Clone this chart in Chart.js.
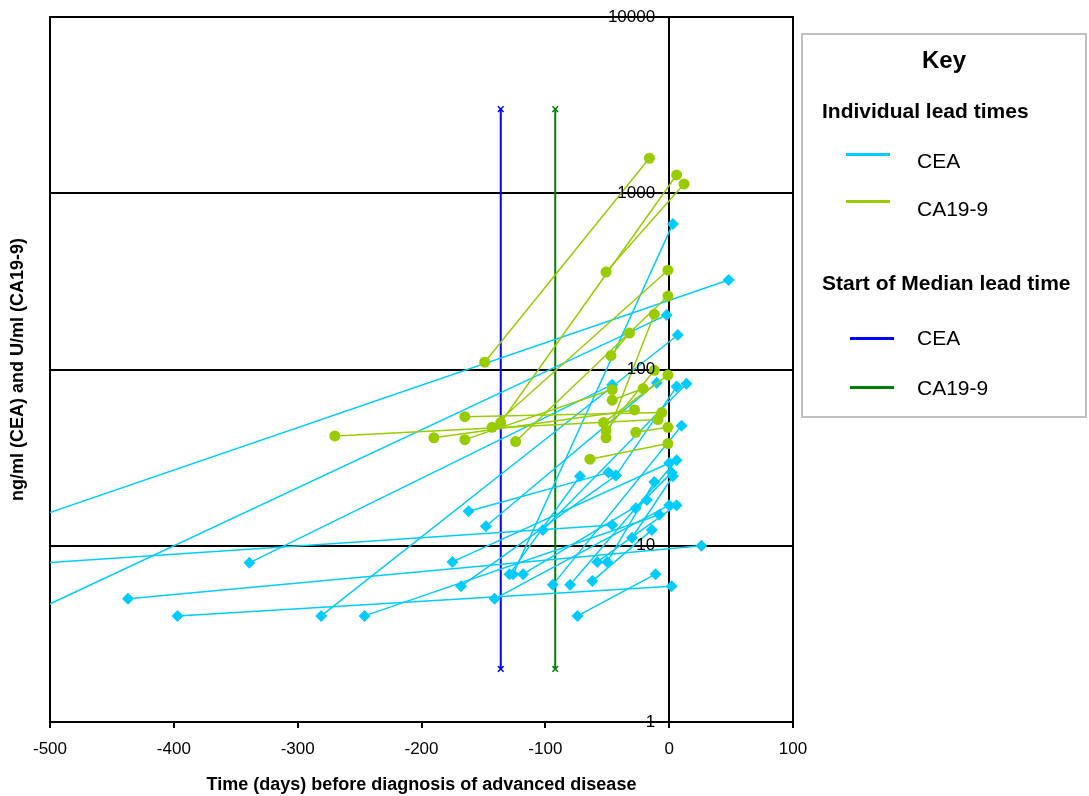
<!DOCTYPE html>
<html>
<head>
<meta charset="utf-8">
<title>Lead times</title>
<script src="https://cdn.jsdelivr.net/npm/chart.js@4.4.1/dist/chart.umd.min.js"></script>
<style>
  html, body { margin: 0; padding: 0; background: #fff; }
  #wrap { position: relative; width: 1089px; height: 796px; font-family: "Liberation Sans", Arial, sans-serif; color: #000; }
  #chart { position: absolute; left: 0; top: 0; }
  .key-box { position: absolute; left: 801px; top: 33px; width: 282px; height: 381px; border: 2px solid #c0c0c0; }
  .key-title { position: absolute; left: 801px; width: 286px; top: 46px; line-height: 28px; font-size: 24px; font-weight: bold; text-align: center; }
  .key-head { position: absolute; left: 822px; line-height: 24px; font-size: 21px; font-weight: bold; white-space: nowrap; }
  .key-line { position: absolute; width: 44px; height: 3px; }
  .key-text { position: absolute; left: 917px; line-height: 24px; font-size: 21px; white-space: nowrap; }
</style>
</head>
<body>
<div id="wrap">
  <canvas id="chart" width="1089" height="796"></canvas>
  <div class="key-box"></div>
  <div class="key-title">Key</div>
  <div class="key-head" style="top:99px">Individual lead times</div>
  <div class="key-line" style="left:846px; top:153px; background:#00CCFF"></div>
  <div class="key-text" style="top:149px">CEA</div>
  <div class="key-line" style="left:846px; top:200px; background:#99CC00"></div>
  <div class="key-text" style="top:197px">CA19-9</div>
  <div class="key-head" style="top:271px">Start of Median lead time</div>
  <div class="key-line" style="left:850px; top:337px; background:#0000FF"></div>
  <div class="key-text" style="top:326px">CEA</div>
  <div class="key-line" style="left:850px; top:386px; background:#008000"></div>
  <div class="key-text" style="top:376px">CA19-9</div>
</div>
<script>
// CEA: one line per patient, from first raised value to value at diagnosis
const ceaStartDay   = [-437, -397, -339, -281, -246, -550, -550, -550, -175, -168, -162, -148, -141,
                       -129, -126, -118, -102, -94, -80, -74, -62, -58, -50, -30, -27, -43];
const ceaStartValue = [5.0, 4.0, 8.0, 4.0, 4.0, 11.7, 3.2, 7.6, 8.1, 5.9, 15.7, 12.9, 5.0,
                       6.9, 6.9, 6.9, 12.3, 6.0, 6.0, 4.0, 6.3, 8.1, 8.1, 11.1, 16.3, 25];
const ceaEndDay     = [26, 2, -46, 7, -8, 48, -2, -46, 0, -43, -49, -10, 0,
                       -72, 3, -18, 14, 10, 6, -11, -14, 6, -12, 3, 2, 6];
const ceaEndValue   = [10, 5.9, 82, 157, 15, 322, 204, 13.1, 29.5, 25, 26, 84, 17,
                       24.8, 670, 18.2, 83, 48, 30.6, 6.9, 12.3, 17, 23, 24.8, 26, 80];

// CA19-9
const caStartDay   = [-149, -136, -51, -143, -124, -51, -47, -165, -165, -190, -270, -64, -51, -53, -27, -46];
const caStartValue = [110, 50, 357, 47, 39, 41, 120, 40, 54, 41, 42, 31, 45, 50, 44, 67];
const caEndDay     = [-16, 6, 12, -1, -1, -12, -32, -46, -6, -28, -9, -1, -12, -1, -1, -21];
const caEndValue   = [1580, 1270, 1130, 366, 261, 206, 161, 77, 57, 59, 52, 38, 99, 93, 47, 78];

// start of median lead time
const medianDay = { cea: -136, ca: -92 };
const medianRange = [2, 3000];

const xTicks = [-500, -400, -300, -200, -100, 0, 100];
const yTicks = [1, 10, 100, 1000, 10000];

const FONT = '"Liberation Sans", Arial, sans-serif';
const CEA_COLOR = '#00CCFF';
const CA_COLOR = '#99CC00';

const datasets = [];

ceaStartDay.forEach((d, i) => {
  datasets.push({
    data: [{ x: d, y: ceaStartValue[i] }, { x: ceaEndDay[i], y: ceaEndValue[i] }],
    showLine: true,
    borderColor: CEA_COLOR,
    borderWidth: 1.5,
    pointStyle: 'rectRot',
    pointRadius: 6,
    pointBackgroundColor: CEA_COLOR,
    pointBorderColor: CEA_COLOR,
    pointBorderWidth: 0,
    order: 2
  });
});

caStartDay.forEach((d, i) => {
  datasets.push({
    data: [{ x: d, y: caStartValue[i] }, { x: caEndDay[i], y: caEndValue[i] }],
    showLine: true,
    borderColor: CA_COLOR,
    borderWidth: 1.5,
    pointStyle: 'circle',
    pointRadius: 5.5,
    pointBackgroundColor: CA_COLOR,
    pointBorderColor: CA_COLOR,
    pointBorderWidth: 0,
    order: 1
  });
});

[[medianDay.cea, '#0000FF'], [medianDay.ca, '#008000']].forEach(([d, c]) => {
  datasets.push({
    data: medianRange.map(v => ({ x: d, y: v })),
    showLine: true,
    borderColor: c,
    borderWidth: 2,
    pointStyle: 'crossRot',
    pointRadius: 4,
    pointBorderColor: c,
    pointBorderWidth: 1.5,
    order: 3
  });
});

// black box round the plot area
const frame = {
  id: 'frame',
  beforeDatasetsDraw(chart) {
    const { ctx, chartArea: a } = chart;
    ctx.save();
    ctx.strokeStyle = '#000';
    ctx.lineWidth = 2;
    ctx.strokeRect(a.left, a.top, a.right - a.left, a.bottom - a.top);
    ctx.restore();
  }
};

// y tick labels sit just left of the day-0 axis, y title at the far left
const yText = {
  id: 'yText',
  afterDraw(chart) {
    const { ctx, chartArea: a, scales } = chart;
    const axisX = scales.x.getPixelForValue(0);
    ctx.save();
    ctx.fillStyle = '#000';
    ctx.font = '17px ' + FONT;
    ctx.textAlign = 'right';
    ctx.textBaseline = 'middle';
    yTicks.forEach(v => {
      ctx.fillText(String(v), axisX - 14, scales.y.getPixelForValue(v));
    });
    ctx.translate(18, (a.top + a.bottom) / 2);
    ctx.rotate(-Math.PI / 2);
    ctx.font = 'bold 18px ' + FONT;
    ctx.textAlign = 'center';
    ctx.fillText('ng/ml (CEA) and U/ml (CA19-9)', 0, 0);
    ctx.restore();
  }
};

new Chart(document.getElementById('chart'), {
  type: 'scatter',
  data: { datasets },
  options: {
    responsive: false,
    animation: false,
    layout: { padding: { left: 50, right: 296, top: 17, bottom: 0 } },
    plugins: { legend: { display: false }, tooltip: { enabled: false } },
    scales: {
      x: {
        type: 'linear',
        min: -500,
        max: 100,
        afterBuildTicks: s => { s.ticks = xTicks.map(v => ({ value: v })); },
        afterFit: s => { s.height = 74; },
        grid: { drawOnChartArea: false, drawTicks: true, tickLength: 6, color: '#000', lineWidth: 2 },
        border: { display: true, color: '#000', width: 2 },
        ticks: { color: '#000', font: { family: FONT, size: 17 }, padding: 11, maxRotation: 0, autoSkip: false },
        title: {
          display: true,
          text: 'Time (days) before diagnosis of advanced disease',
          color: '#000',
          font: { family: FONT, size: 18, weight: 'bold' },
          padding: { top: 0, bottom: 0 }
        }
      },
      y: {
        type: 'logarithmic',
        min: 1,
        max: 10000,
        position: { x: 0 },
        afterBuildTicks: s => { s.ticks = yTicks.map(v => ({ value: v })); },
        grid: { color: '#000', lineWidth: 2, drawTicks: false },
        border: { display: true, color: '#000', width: 2 },
        ticks: { display: false }
      }
    }
  },
  plugins: [frame, yText]
});
</script>
</body>
</html>
